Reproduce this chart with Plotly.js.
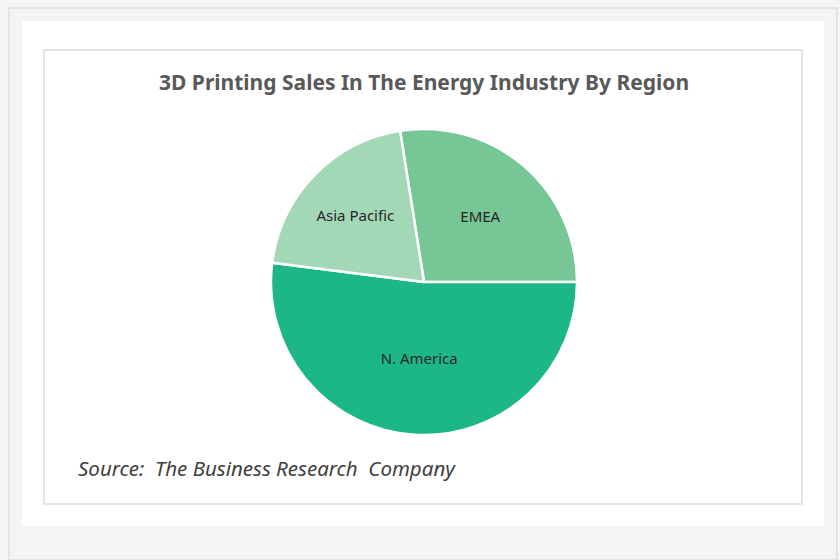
<!DOCTYPE html>
<html>
<head>
<meta charset="utf-8">
<script src="https://cdn.plot.ly/plotly-3.0.1.min.js"></script>
<style>
html,body{margin:0;padding:0;background:#f4f4f4;}
#chart{width:840px;height:560px;}
</style>
</head>
<body>
<div id="chart"></div>
<script>
const regions = ["EMEA", "N. America", "Asia Pacific"];
const shares = [27.5, 52, 20.5];
const sliceColors = ["#77c696", "#1db686", "#a3d8b7"];
const titleText = "3D Printing Sales In The Energy Industry By Region";
const sourceText = "Source:  The Business Research  Company";

const W = 840, H = 560;
const px = x => x / W;
const py = y => 1 - y / H;

const data = [{
  type: "pie",
  labels: regions,
  values: shares,
  sort: false,
  direction: "clockwise",
  rotation: -9,
  marker: {colors: sliceColors, line: {color: "#ffffff", width: 2.5}},
  textinfo: "label",
  textposition: "inside",
  insidetextorientation: "horizontal",
  textfont: {family: "Noto Sans, sans-serif", size: 15, color: "#262626"},
  hoverinfo: "label+percent",
  showlegend: false,
  domain: {x: [px(271), px(577)], y: [py(435), py(129)]}
}];

const layout = {
  width: W, height: H,
  margin: {l: 0, r: 0, t: 0, b: 0},
  paper_bgcolor: "#f4f4f4",
  shapes: [
    {type: "rect", xref: "paper", yref: "paper", x0: px(9), x1: px(837), y0: py(560), y1: py(8),
     line: {color: "#e4e4e4", width: 2}, fillcolor: "#f4f4f4", layer: "below"},
    {type: "rect", xref: "paper", yref: "paper", x0: px(22), x1: px(824), y0: py(526), y1: py(21),
     line: {width: 0}, fillcolor: "#ffffff", layer: "below"},
    {type: "rect", xref: "paper", yref: "paper", x0: px(44), x1: px(802), y0: py(504), y1: py(50),
     line: {color: "#dcdcdc", width: 1.5}, fillcolor: "#ffffff", layer: "below"}
  ],
  annotations: [
    {text: "<b>" + titleText + "</b>", xref: "paper", yref: "paper", x: px(424), y: py(82),
     xanchor: "center", yanchor: "middle", showarrow: false,
     font: {family: "Noto Sans, sans-serif", size: 21, color: "#595959"}},
    {text: "<i>" + sourceText + "</i>", xref: "paper", yref: "paper", x: px(76), y: py(468),
     xanchor: "left", yanchor: "middle", showarrow: false,
     font: {family: "Noto Sans, sans-serif", size: 20.5, color: "#404040"}}
  ]
};

Plotly.newPlot("chart", data, layout, {displayModeBar: false, staticPlot: true});
</script>
</body>
</html>
